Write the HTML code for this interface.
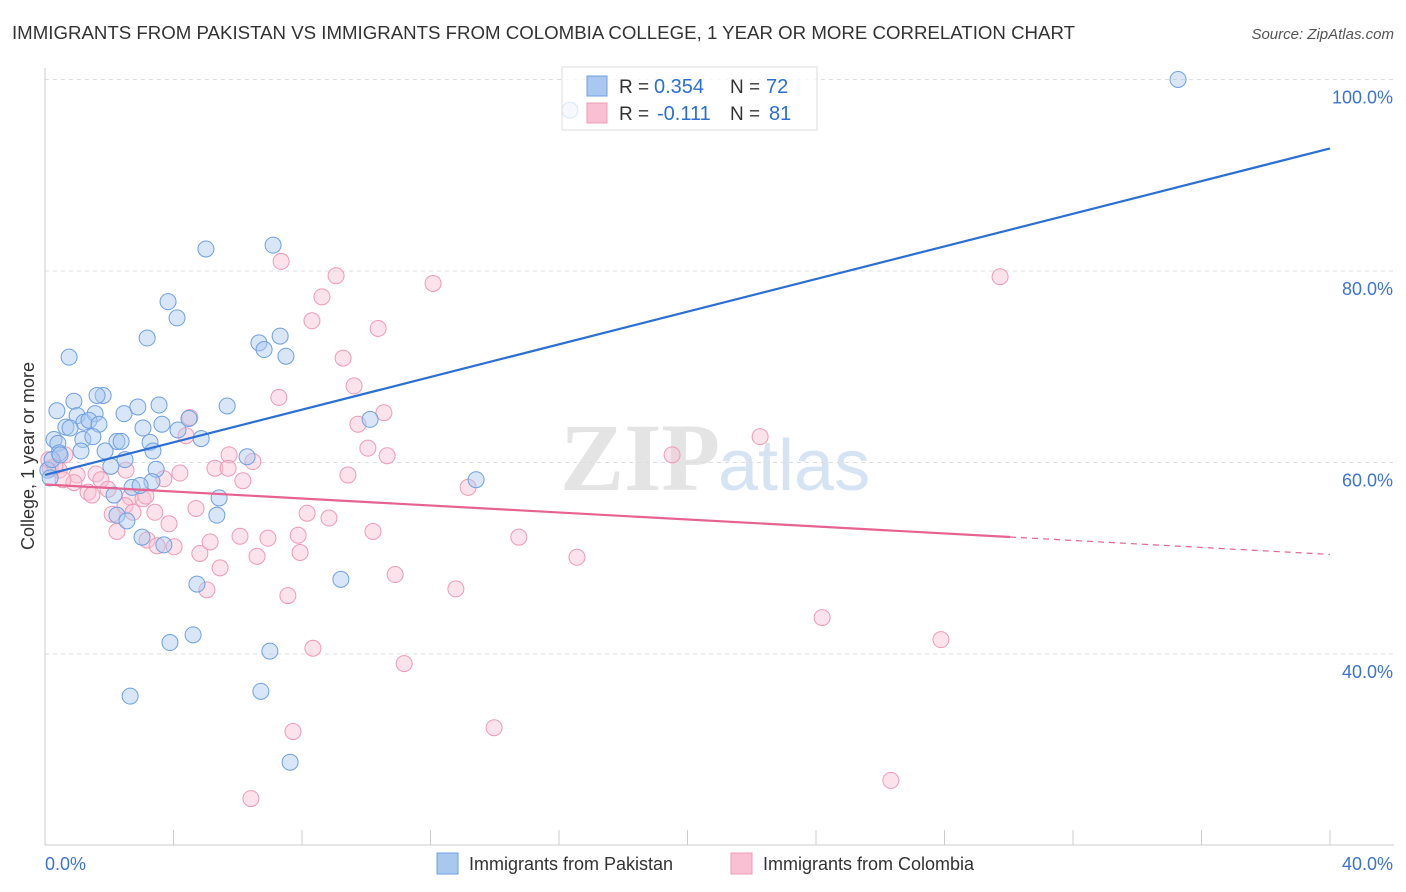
<!DOCTYPE html>
<html><head><meta charset="utf-8"><style>
body{margin:0;background:#fff;font-family:"Liberation Sans",sans-serif;}
svg{display:block}
</style></head><body>
<svg id="chart" width="1406" height="892">
<text x="12" y="39" font-size="18" fill="#333" textLength="1063" lengthAdjust="spacingAndGlyphs">IMMIGRANTS FROM PAKISTAN VS IMMIGRANTS FROM COLOMBIA COLLEGE, 1 YEAR OR MORE CORRELATION CHART</text>
<text x="1394" y="39" font-size="15" fill="#555" text-anchor="end" font-style="italic">Source: ZipAtlas.com</text>
<text x="720" y="490" font-size="96" fill="#e4e4e4" text-anchor="end" font-family="Liberation Serif" font-weight="bold">ZIP</text>
<text x="718" y="490" font-size="72" fill="#d6e3f3">atlas</text>
<g id="grid"></g><g id="marks"></g>
<text transform="translate(34,456) rotate(-90)" font-size="18" fill="#333" text-anchor="middle">College, 1 year or more</text>
<g>
<rect x="562" y="67" width="255" height="63" fill="#fff" fill-opacity="0.75" stroke="#ddd"/>
<rect x="587" y="76" width="20" height="20" fill="#a9c8f0" stroke="#6fa0e0"/>
<rect x="587" y="103" width="20" height="20" fill="#f8c0d2" stroke="#ee9bb5"/>
<text x="619" y="93" font-size="19" fill="#333">R =</text>
<text x="654" y="93" font-size="20" fill="#2b6fd4">0.354</text>
<text x="730" y="93" font-size="19" fill="#333">N =</text>
<text x="766" y="93" font-size="20" fill="#2b6fd4">72</text>
<text x="619" y="120" font-size="19" fill="#333">R =</text>
<text x="657" y="120" font-size="20" fill="#2b6fd4">-0.111</text>
<text x="730" y="120" font-size="19" fill="#333">N =</text>
<text x="769" y="120" font-size="20" fill="#2b6fd4">81</text>
</g>
<g>
<rect x="437" y="853" width="21" height="21" fill="#a9c8f0" stroke="#6fa0e0"/>
<text x="469" y="870" font-size="18" fill="#333">Immigrants from Pakistan</text>
<rect x="731" y="853" width="21" height="21" fill="#f8c0d2" stroke="#ee9bb5"/>
<text x="763" y="870" font-size="18" fill="#333">Immigrants from Colombia</text>
</g>
</svg>
<script>
const blueX=[35.27,16.34,5.01,7.10,3.83,4.11,3.18,0.75,6.66,6.82,7.32,7.50,0.90,1.81,1.62,0.37,1.0,1.21,1.56,1.37,1.68,0.65,0.78,2.46,2.89,3.55,3.64,3.05,4.14,4.48,5.67,4.86,10.12,0.28,0.40,1.18,1.49,2.24,2.37,3.27,3.36,1.87,1.12,6.29,0.44,3.46,2.49,2.05,3.33,2.71,2.96,2.15,5.42,2.24,2.55,5.35,3.02,3.70,13.42,4.73,9.21,4.61,3.89,7.00,2.65,6.72,7.63,0.09,0.16,0.22,0.47];
const blueY=[100.0,96.8,82.3,82.7,76.8,75.1,73.0,71.0,72.5,71.8,73.2,71.1,66.4,67.0,67.0,65.4,64.9,64.2,65.1,64.4,64.0,63.7,63.6,65.1,65.8,66.0,64.0,63.6,63.4,64.6,65.9,62.5,64.5,62.4,62.0,62.4,62.7,62.2,62.2,62.1,61.2,61.2,61.2,60.6,61.0,59.3,60.3,59.6,58.0,57.4,57.6,56.6,56.3,54.5,53.9,54.5,52.2,51.4,58.2,47.3,47.8,42.0,41.2,40.3,35.6,36.1,28.7,59.2,58.4,60.3,60.8];
const pinkX=[29.73,12.08,9.06,7.35,8.62,8.31,10.37,9.28,9.62,7.28,10.55,9.74,4.51,4.39,10.05,10.65,22.26,19.52,5.73,6.47,5.29,5.70,9.43,6.16,4.20,3.70,2.52,1.59,1.0,0.90,0.44,0.16,0.62,1.34,1.74,1.46,2.65,3.05,3.14,2.09,2.49,2.74,3.42,4.70,8.16,8.84,13.17,3.86,2.24,3.18,3.49,4.02,4.82,5.14,6.07,6.94,7.88,10.21,14.75,6.60,7.94,16.56,5.45,5.04,10.90,7.56,12.79,24.19,27.89,8.34,11.18,7.72,13.98,26.33,6.41,0.12,0.31,0.56,1.96];
const pinkY=[79.4,78.7,79.5,81.0,77.3,74.8,74.0,70.9,68.0,66.8,65.2,64.0,64.7,62.8,61.5,60.7,62.7,60.8,60.8,60.1,59.4,59.4,58.7,58.1,58.9,58.3,59.2,58.8,58.7,57.9,59.2,59.4,60.8,56.9,58.2,56.6,56.4,56.2,56.5,54.6,55.5,54.8,54.8,55.2,54.7,54.2,57.4,53.6,52.8,51.9,51.3,51.2,50.5,51.7,52.3,52.1,52.4,52.8,52.2,50.2,50.6,50.1,49.0,46.7,48.3,46.1,46.8,43.8,41.5,40.6,39.0,31.9,32.3,26.8,24.9,60.3,59.6,58.2,57.2];
const blueTrend=[58.7,92.8];
const pinkTrend=[57.7,50.4];
const pinkSolidEnd=30.04;
const yTicks=[100,80,60,40];
const xTickLabels=["0.0%","40.0%"];
const NS="http://www.w3.org/2000/svg";
const sx=v=>45+v*1285/40;
const sy=v=>79.5+(100-v)*9.575;
function mk(t,a,p){const e=document.createElementNS(NS,t);for(const k in a)e.setAttribute(k,a[k]);p.appendChild(e);return e;}
const grid=document.getElementById('grid'),marks=document.getElementById('marks');
yTicks.forEach(t=>{
 const l=mk('line',{x1:45,x2:1394,y1:sy(t),y2:sy(t),stroke:'#ddd','stroke-dasharray':'4,4'},grid);
 
 
 const tx=mk('text',{x:1393,y:sy(t)+24,'font-size':18,fill:'#3b74d4','text-anchor':'end'},grid);
 tx.textContent=t.toFixed(1)+'%';
 
 
});
const ax=mk('line',{x1:45,x2:1394,y1:845,y2:845,stroke:'#ccc'},grid);


const ay=mk('line',{x1:45,x2:45,y1:68,y2:845,stroke:'#ccc'},grid);


for(let i=0;i<=10;i++){const t=mk('line',{x1:sx(i*4),x2:sx(i*4),y1:830,y2:845,stroke:'#ccc'},grid);
 
 }
[[0,'start',45],[40,'end',1393]].forEach((d,i)=>{const t=mk('text',{x:d[2],y:870,'font-size':18,fill:'#3b74d4','text-anchor':d[1]},grid);t.textContent=xTickLabels[i];
 
 });
function pts(X,Y,fill,stroke,name){X.forEach((x,i)=>{const c=mk('circle',{cx:sx(x),cy:sy(Y[i]),r:8,fill:fill,'fill-opacity':0.45,stroke:stroke,'stroke-width':1},marks);
 
 });}
pts(pinkX,pinkY,'#f8c0d2','#ee9bb5','colombia-point');
pts(blueX,blueY,'#a9c8f0','#6fa0e0','pakistan-point');
const bl=mk('line',{x1:sx(0),y1:sy(blueTrend[0]),x2:sx(40),y2:sy(blueTrend[1]),stroke:'#2b6fd4','stroke-width':2.2},marks);


const pe=pinkTrend[0]+(pinkTrend[1]-pinkTrend[0])*pinkSolidEnd/40;
const pl=mk('line',{x1:sx(0),y1:sy(pinkTrend[0]),x2:sx(pinkSolidEnd),y2:sy(pe),stroke:'#e5638f','stroke-width':2.2},marks);


const pd=mk('line',{x1:sx(pinkSolidEnd),y1:sy(pe),x2:sx(40),y2:sy(pinkTrend[1]),stroke:'#e5638f','stroke-width':1.2,'stroke-dasharray':'6,5'},marks);


</script>
</body></html>
